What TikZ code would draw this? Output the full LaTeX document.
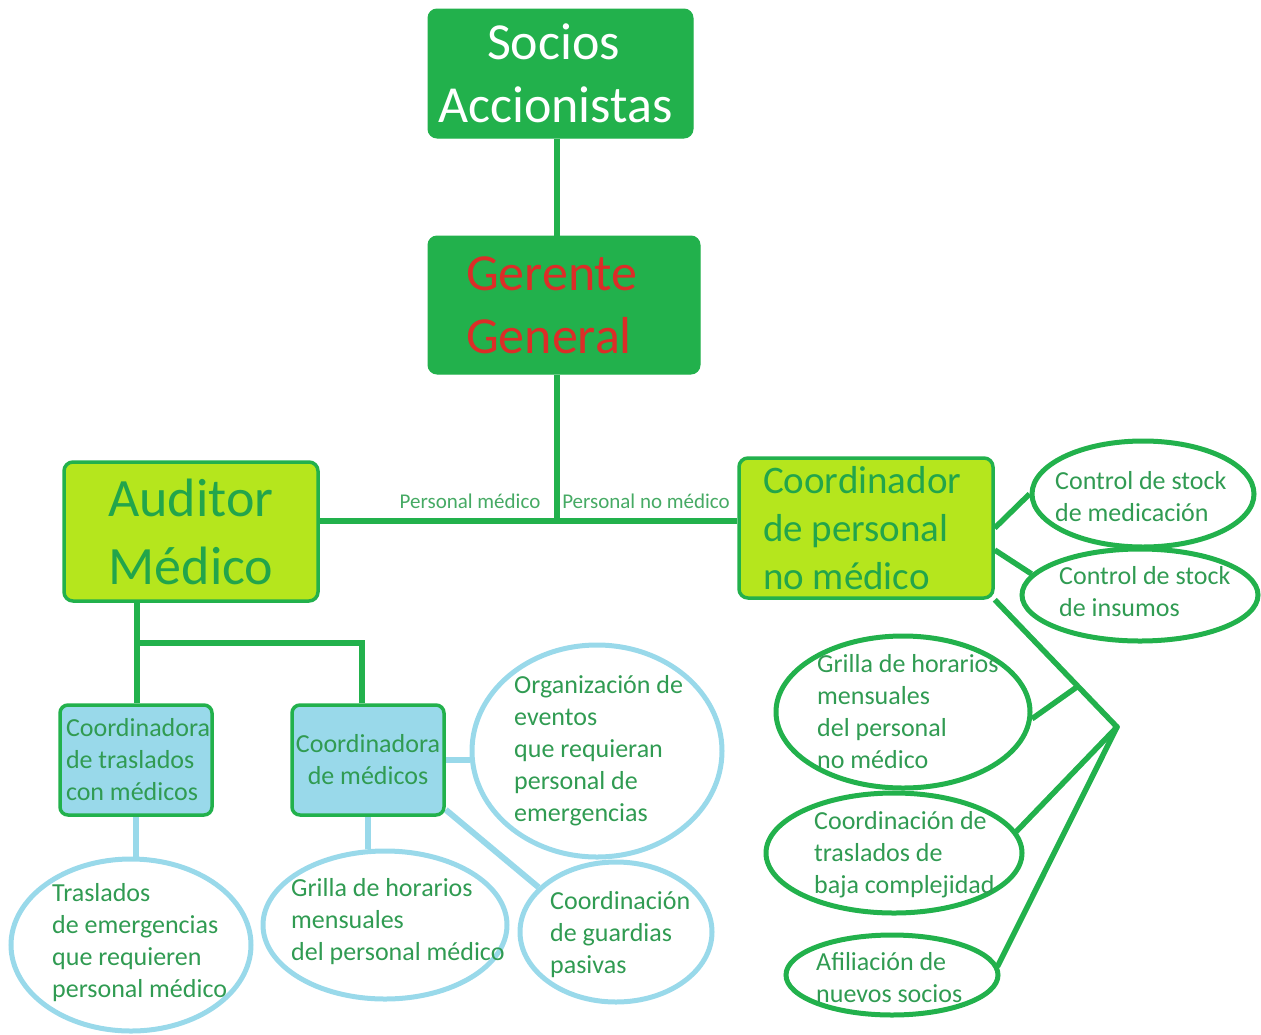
\documentclass[tikz,border=0pt]{standalone}
\usepackage{fontspec}
\setmainfont{Carlito}
\usetikzlibrary{shapes.geometric,calc,backgrounds}
\definecolor{dgreen}{RGB}{34,177,76}
\definecolor{limeg}{RGB}{181,230,29}
\definecolor{lblue}{RGB}{153,217,234}
\definecolor{gred}{RGB}{220,45,40}
\definecolor{boxtxt}{RGB}{34,165,75}
\definecolor{txtg}{RGB}{48,155,82}
\definecolor{lbltxt}{RGB}{70,170,100}
\begin{document}
\begin{tikzpicture}[x=1pt,y=-1pt,
 topbox/.style={rectangle,rounded corners=9pt,fill=dgreen,draw=dgreen,line width=1pt,inner sep=0pt},
 limebox/.style={rectangle,rounded corners=9pt,fill=limeg,draw=dgreen,line width=3.5pt,inner sep=0pt},
 bluebox/.style={rectangle,rounded corners=8pt,fill=lblue,draw=dgreen,line width=3.5pt,inner sep=0pt},
 gell/.style={ellipse,draw=dgreen,line width=5pt,inner sep=0pt},
 bell/.style={ellipse,draw=lblue,line width=5pt,inner sep=0pt},
 gline/.style={draw=dgreen,line width=5.5pt},
 bline/.style={draw=lblue,line width=6pt},
 etext/.style={anchor=west,align=left,inner sep=0pt,text=txtg,font=\fontsize{26}{32}\selectfont},
 lbl/.style={inner sep=0pt,text=lbltxt,font=\fontsize{21}{25}\selectfont}]
\useasboundingbox (0,0) rectangle (1261,1034);

% main boxes
\node[topbox,minimum width=265pt,minimum height=129pt,align=center,text=white,
  font=\fontsize{52}{63}\selectfont] (soc) at (560.5,73.5) {\hspace*{-14pt}Socios\\\hspace*{-10pt}Accionistas};
\node[topbox,minimum width=272pt,minimum height=138pt,text width=196pt,align=flush left,text=gred,
  font=\fontsize{52}{63}\selectfont] (ger) at (564,305) {Gerente\\General};
\node[limebox,minimum width=254pt,minimum height=139pt,align=center,text=boxtxt,
  font=\fontsize{54}{68}\selectfont] (aud) at (191,531.5) {Auditor\\Médico};
\node[limebox,minimum width=254pt,minimum height=140pt,text width=206pt,align=flush left,text=boxtxt,
  font=\fontsize{39}{48}\selectfont] (coord) at (866,528) {Coordinador\\de personal\\no médico};
\node[bluebox,minimum width=152pt,minimum height=110pt,text width=140pt,align=flush left,text=txtg,
  font=\fontsize{26}{32}\selectfont] (ct) at (136,760) {Coordinadora\\de traslados\\con médicos};
\node[bluebox,minimum width=152pt,minimum height=110pt,align=center,text=txtg,
  font=\fontsize{26}{32}\selectfont] (cm) at (368,760) {Coordinadora\\de médicos};

% labels
\node[lbl] (lpm) at (470,501) {Personal médico};
\node[lbl] (lpnm) at (646,501) {Personal no médico};

% blue ellipses
\node[bell,minimum width=240pt,minimum height=172pt] (eTras) at (131,945) {};
\node[bell,minimum width=244pt,minimum height=148pt] (eGrM) at (385,925) {};
\node[bell,minimum width=250pt,minimum height=212pt] (eOrg) at (597,751) {};
\node[bell,minimum width=192pt,minimum height=140pt] (eGua) at (616,932) {};
\node[etext] (tTras) at (52,943) {Traslados\\de emergencias\\que requieren\\personal médico};
\node[etext] (tGrM) at (291,922) {Grilla de horarios\\mensuales\\del personal médico};
\node[etext] (tOrg) at (514,751) {Organización de\\eventos\\que requieran\\personal de\\emergencias};
\node[etext] (tGua) at (550,935) {Coordinación\\de guardias\\pasivas};

% green ellipses
\node[gell,minimum width=222pt,minimum height=106pt] (eMed) at (1143,494) {};
\node[gell,minimum width=236pt,minimum height=92pt] (eIns) at (1140,595) {};
\node[gell,minimum width=254pt,minimum height=152pt] (eGrN) at (903,712) {};
\node[gell,minimum width=256pt,minimum height=120pt] (eCT) at (894,853) {};
\node[gell,minimum width=212pt,minimum height=80pt] (eAf) at (892,975) {};
\node[etext] (tMed) at (1055,497) {Control de stock\\de medicación};
\node[etext] (tIns) at (1059,592) {Control de stock\\de insumos};
\node[etext] (tGrN) at (817,712) {Grilla de horarios\\mensuales\\del personal\\no médico};
\node[etext] (tCT) at (814,855) {Coordinación de\\traslados de\\baja complejidad};
\node[etext] (tAf) at (816,978) {Afiliación de\\nuevos socios};

% junctions
\coordinate (jn) at (557,521);
\coordinate (j2) at (137,643);
\coordinate (j3) at (362,643);
\coordinate (apex) at (1117,727);

\begin{scope}[on background layer]
\draw[gline] (jn |- soc.south) -- (jn |- ger.north);
\draw[gline] (jn |- ger.south) -- (jn);
\draw[gline] (aud.east |- jn) -- (coord.west |- jn);
\draw[gline,line join=miter] (j2 |- aud.south) -- (j2) -- (j3) -- (j3 |- cm.north);
\draw[gline] (j2) -- (j2 |- ct.north);
\draw[bline] (ct.south) -- (ct.south |- eTras.north);
\draw[bline] (cm.south) -- (cm.south |- eGrM.north);
\draw[bline] (cm.east) -- (cm.east -| eOrg.west);
\draw[bline] ([yshift=7pt]cm.south east) -- (eGua.150);
\draw[gline] (coord.east) -- (eMed.west);
\draw[gline] ([yshift=-22pt]coord.east) -- (eIns.169);
\draw[gline,line join=round] (coord.south east) -- (apex);
\draw[gline] ($(coord.south east)!0.68!(apex)$) -- (eGrN.-3);
\draw[gline,line cap=round] (apex) -- (eCT.10);
\draw[gline,line cap=round] (apex) -- (eAf.5);
\end{scope}
\end{tikzpicture}
\end{document}
